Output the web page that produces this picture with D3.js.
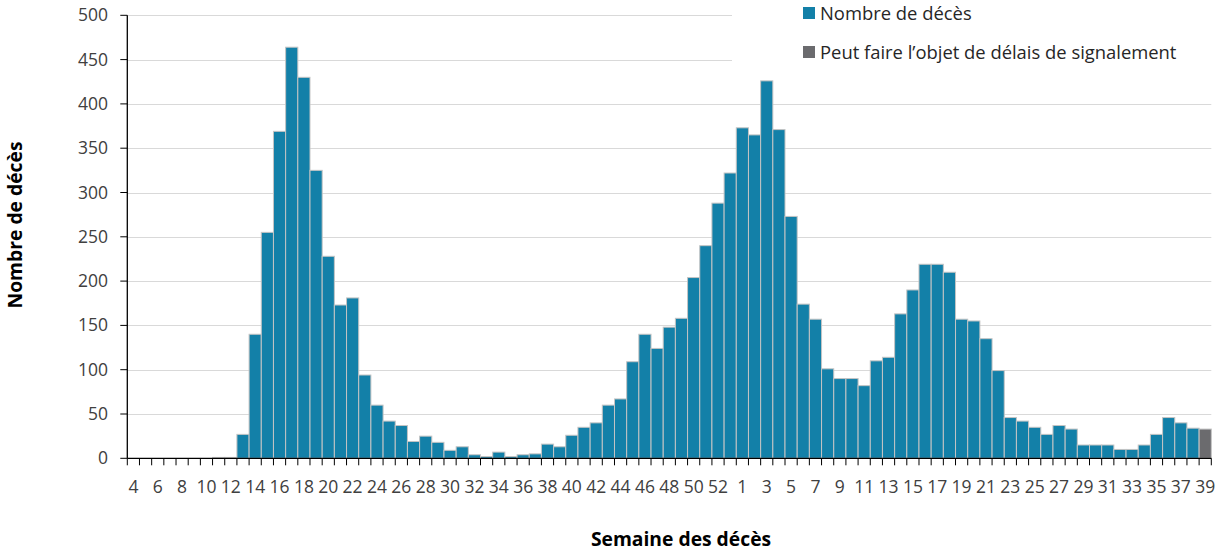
<!DOCTYPE html>
<html>
<head>
<meta charset="utf-8">
<script src="https://cdn.jsdelivr.net/npm/d3@7"></script>
<style>
  body { margin: 0; background: #fff; }
  svg { display: block; font-family: "Open Sans", sans-serif; }
</style>
</head>
<body>
<svg id="chart" width="1218" height="553"></svg>
<script>
// weeks on the x axis (2020 then 2021)
const weeks2020 = [4,5,6,7,8,9,10,11,12,13,14,15,16,17,18,19,20,21,22,23,24,25,26,27,28,29,30,31,32,33,34,35,36,37,38,39,40,41,42,43,44,45,46,47,48,49,50,51,52,53];
const weeks2021 = [1,2,3,4,5,6,7,8,9,10,11,12,13,14,15,16,17,18,19,20,21,22,23,24,25,26,27,28,29,30,31,32,33,34,35,36,37,38,39];

// number of deaths per week
const deaths2020 = [0,0,0,0,0,0,0,1,1,27,140,255,369,464,430,325,228,173,181,94,60,42,37,19,25,18,9,13,4,2,7,2,4,5,16,13,26,35,40,60,67,109,140,124,148,158,204,240,288,322];
const deaths2021 = [373,365,426,371,273,174,157,101,90,90,82,110,114,163,190,219,219,210,157,155,135,99,46,42,35,27,37,33,15,15,15,10,10,15,27,46,40,34,33];

// weeks that may still be subject to reporting delays
const delayedWeeks = ['2021-39'];

const yTicks = [0,50,100,150,200,250,300,350,400,450,500];

const legendItems = [
  { label: 'Nombre de décès', color: '#1380a8' },
  { label: 'Peut faire l’objet de délais de signalement', color: '#6b6b6e' }
];

let data = [];
weeks2020.forEach((w, i) => data.push({ key: '2020-' + w, week: w, value: deaths2020[i] }));
weeks2021.forEach((w, i) => data.push({ key: '2021-' + w, week: w, value: deaths2021[i] }));

const svg = d3.select('#chart');
const margin = { left: 127.3, right: 1211.3, top: 15.3, bottom: 458.3 };

let x = d3.scaleBand()
  .domain(data.map(d => d.key))
  .range([margin.left, margin.right])
  .padding(0);

let y = d3.scaleLinear()
  .domain([0, 500])
  .range([margin.bottom, margin.top]);

// gridlines
svg.append('g')
  .selectAll('line')
  .data(yTicks.filter(t => t > 0))
  .enter().append('line')
    .attr('x1', margin.left)
    .attr('x2', margin.right)
    .attr('y1', d => Math.round(y(d)) + 0.5)
    .attr('y2', d => Math.round(y(d)) + 0.5)
    .attr('stroke', '#d9d9d9')
    .attr('stroke-width', 1);

// white legend area hides the top gridlines
svg.append('rect')
  .attr('x', 732)
  .attr('y', 0)
  .attr('width', 1218 - 732)
  .attr('height', 70)
  .attr('fill', '#fff');

// bars
svg.append('g')
  .selectAll('rect')
  .data(data)
  .enter().append('rect')
    .attr('x', d => x(d.key))
    .attr('width', x.bandwidth())
    .attr('y', d => y(d.value))
    .attr('height', d => y(0) - y(d.value))
    .attr('fill', d => delayedWeeks.includes(d.key) ? legendItems[1].color : legendItems[0].color)
    .attr('stroke', '#c4c4c4')
    .attr('stroke-width', 1);

// x axis
let xAxis = svg.append('g')
  .attr('transform', `translate(0,${margin.bottom})`);

xAxis.append('line')
  .attr('x1', margin.left)
  .attr('x2', margin.right)
  .attr('y1', 0)
  .attr('y2', 0)
  .attr('stroke', '#000')
  .attr('stroke-width', 1.3);

xAxis.selectAll('.xtick')
  .data(data.map(d => x(d.key)).concat([margin.right]))
  .enter().append('line')
    .attr('class', 'xtick')
    .attr('x1', d => d)
    .attr('x2', d => d)
    .attr('y1', 0)
    .attr('y2', 7)
    .attr('stroke', '#000')
    .attr('stroke-width', 1);

xAxis.selectAll('text')
  .data(data.filter((d, i) => i % 2 === 0))
  .enter().append('text')
    .attr('x', d => x(d.key) + x.bandwidth() / 2)
    .attr('y', 34.5)
    .attr('text-anchor', 'middle')
    .attr('font-size', '17.5px')
    .attr('fill', '#404040')
    .text(d => d.week);

// y axis
let yAxis = svg.append('g');

yAxis.append('line')
  .attr('x1', margin.left)
  .attr('x2', margin.left)
  .attr('y1', margin.top)
  .attr('y2', margin.bottom)
  .attr('stroke', '#000')
  .attr('stroke-width', 1.3);

yAxis.selectAll('.ytick')
  .data(yTicks)
  .enter().append('line')
    .attr('class', 'ytick')
    .attr('x1', margin.left - 7)
    .attr('x2', margin.left)
    .attr('y1', d => y(d))
    .attr('y2', d => y(d))
    .attr('stroke', '#000')
    .attr('stroke-width', 1);

yAxis.selectAll('text')
  .data(yTicks)
  .enter().append('text')
    .attr('x', 108)
    .attr('y', d => y(d) + 6)
    .attr('text-anchor', 'end')
    .attr('font-size', '17.5px')
    .attr('fill', '#404040')
    .text(d => d);

// axis titles
svg.append('text')
  .attr('x', 681)
  .attr('y', 546)
  .attr('text-anchor', 'middle')
  .attr('font-size', '19.3px')
  .attr('font-weight', 'bold')
  .attr('fill', '#000')
  .text('Semaine des décès');

svg.append('text')
  .attr('transform', 'translate(22,225) rotate(-90)')
  .attr('text-anchor', 'middle')
  .attr('font-size', '19.3px')
  .attr('font-weight', 'bold')
  .attr('fill', '#000')
  .text('Nombre de décès');

// legend
let legend = svg.append('g')
  .selectAll('g')
  .data(legendItems)
  .enter().append('g')
    .attr('transform', (d, i) => `translate(803,${7 + i * 39})`);

legend.append('rect')
  .attr('width', 12)
  .attr('height', 12)
  .attr('fill', d => d.color);

legend.append('text')
  .attr('x', 17)
  .attr('y', 12.5)
  .attr('font-size', '18.4px')
  .attr('fill', '#262626')
  .text(d => d.label);
</script>
</body>
</html>
